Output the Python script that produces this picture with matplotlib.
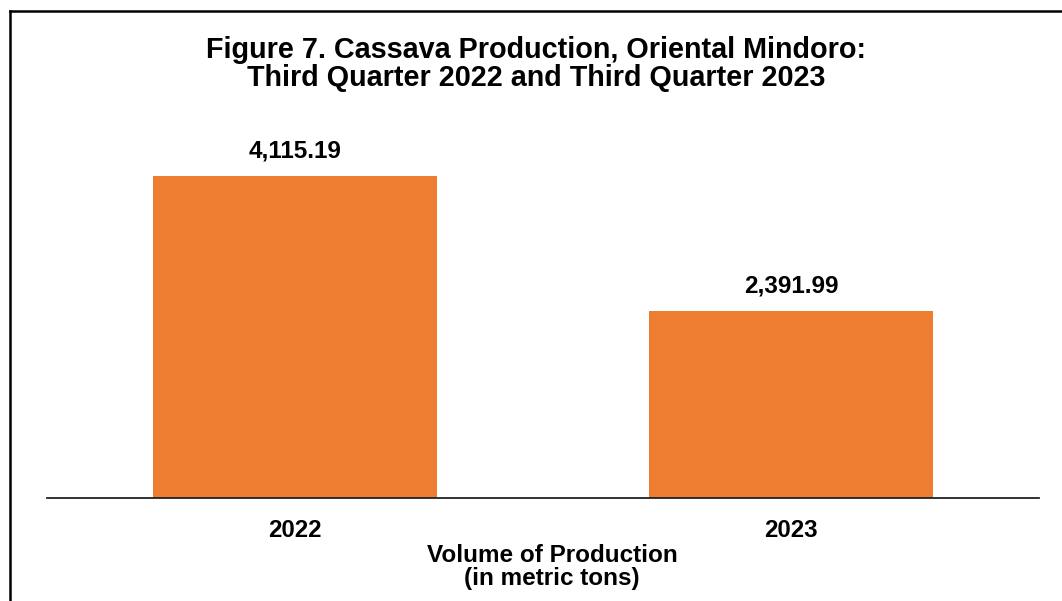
import matplotlib
matplotlib.use("Agg")
import matplotlib.pyplot as plt
from matplotlib.lines import Line2D

categories = ["2022", "2023"]
values = [4115.19, 2391.99]
value_labels = ["4,115.19", "2,391.99"]
title_lines = ["Figure 7. Cassava Production, Oriental Mindoro:",
               "Third Quarter 2022 and Third Quarter 2023"]
xlabel_lines = ["Volume of Production", "(in metric tons)"]

BAR_COLOR = "#ED7D31"
FONT = "Liberation Sans"

W, H = 1062, 601
fig = plt.figure(figsize=(W / 100, H / 100), dpi=100)
fig.patch.set_facecolor("white")

# axes: x from 47 to 1039 px, baseline at y=498, top at y=140
ax = fig.add_axes([47 / W, (H - 498) / H, 992 / W, 358 / H])
x = list(range(len(categories)))
ax.bar(x, values, width=0.573, color=BAR_COLOR, zorder=2)
ax.set_xlim(-0.5, len(categories) - 0.5)
ymax = values[0] * 358 / 322
ax.set_ylim(0, ymax)

for s in ["top", "right", "left"]:
    ax.spines[s].set_visible(False)
ax.spines["bottom"].set_linewidth(1.3)
ax.spines["bottom"].set_color("#222222")
ax.set_yticks([])
ax.set_xticks(x)
ax.set_xticklabels(categories, fontsize=17.3, fontweight="bold", family=FONT)
ax.tick_params(axis="x", length=0, pad=15)

for xi, v, lab in zip(x, values, value_labels):
    ax.annotate(lab, (xi, v), xytext=(0, 13), textcoords="offset points",
                ha="center", va="baseline", fontsize=17.5, fontweight="bold",
                family=FONT)

# title
fig.text(536.5 / W, 1 - 58 / H, title_lines[0], ha="center", va="baseline",
         fontsize=20.7, fontweight="bold", family=FONT)
fig.text(536.5 / W, 1 - 86 / H, title_lines[1], ha="center", va="baseline",
         fontsize=20.7, fontweight="bold", family=FONT)

# x-axis title
fig.text(552 / W, 1 - 562 / H, xlabel_lines[0], ha="center", va="baseline",
         fontsize=17.5, fontweight="bold", family=FONT)
fig.text(552 / W, 1 - 585 / H, xlabel_lines[1], ha="center", va="baseline",
         fontsize=17.5, fontweight="bold", family=FONT)

# outer frame (left and top edges visible)
fig.add_artist(Line2D([9.5 / W, 9.5 / W], [0, 1 - 11 / H], transform=fig.transFigure,
                      color="black", linewidth=1.8))
fig.add_artist(Line2D([9.5 / W, 1], [1 - 11 / H, 1 - 11 / H], transform=fig.transFigure,
                      color="black", linewidth=1.8))

fig.savefig("out.png", dpi=100, facecolor="white")
